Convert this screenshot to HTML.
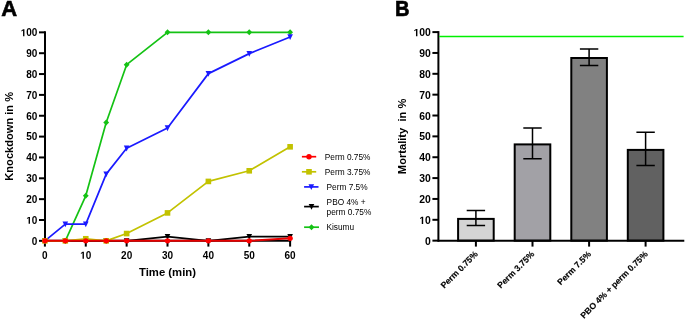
<!DOCTYPE html><html><head><meta charset="utf-8"><style>html,body{margin:0;padding:0;background:#fff;}svg{display:block;will-change:transform;}text{font-family:"Liberation Sans",sans-serif;}</style></head><body>
<svg width="685" height="319" viewBox="0 0 685 319">
<text x="1.3" y="15.7" font-size="22" font-weight="bold" fill="#000" stroke="#000" stroke-width="0.6">A</text>
<text transform="translate(395.0,16.0) scale(0.915,1)" font-size="22" font-weight="bold" fill="#000" stroke="#000" stroke-width="0.6">B</text>
<g stroke="#000" stroke-width="2" fill="none">
<path d="M45,31.35V241.85"/>
<path d="M39,240.85H45"/>
<path d="M39,220.00H45"/>
<path d="M39,199.15H45"/>
<path d="M39,178.30H45"/>
<path d="M39,157.45H45"/>
<path d="M39,136.60H45"/>
<path d="M39,115.75H45"/>
<path d="M39,94.90H45"/>
<path d="M39,74.05H45"/>
<path d="M39,53.20H45"/>
<path d="M39,32.35H45"/>
<path d="M44,240.85H291.12"/>
<path d="M44.90,240.85V246.6"/>
<path d="M85.77,240.85V246.6"/>
<path d="M126.64,240.85V246.6"/>
<path d="M167.51,240.85V246.6"/>
<path d="M208.38,240.85V246.6"/>
<path d="M249.25,240.85V246.6"/>
<path d="M290.12,240.85V246.6"/>
</g>
<g font-size="10" font-weight="bold" fill="#000">
<text x="31.84" y="244.65">0</text>
<path transform="translate(26.28,223.80) scale(0.00488,-0.00488)" d="M478,0L478,1170L140,959L140,1180L493,1409L759,1409L759,0Z"/><text x="31.84" y="223.80">0</text>
<text x="26.28" y="202.95">2</text><text x="31.84" y="202.95">0</text>
<text x="26.28" y="182.10">3</text><text x="31.84" y="182.10">0</text>
<text x="26.28" y="161.25">4</text><text x="31.84" y="161.25">0</text>
<text x="26.28" y="140.40">5</text><text x="31.84" y="140.40">0</text>
<text x="26.28" y="119.55">6</text><text x="31.84" y="119.55">0</text>
<text x="26.28" y="98.70">7</text><text x="31.84" y="98.70">0</text>
<text x="26.28" y="77.85">8</text><text x="31.84" y="77.85">0</text>
<text x="26.28" y="57.00">9</text><text x="31.84" y="57.00">0</text>
<path transform="translate(20.72,36.15) scale(0.00488,-0.00488)" d="M478,0L478,1170L140,959L140,1180L493,1409L759,1409L759,0Z"/><text x="26.28" y="36.15">0</text><text x="31.84" y="36.15">0</text>
</g>
<g font-size="10" font-weight="bold" fill="#000">
<text x="42.12" y="258.70">0</text>
<path transform="translate(80.21,258.70) scale(0.00488,-0.00488)" d="M478,0L478,1170L140,959L140,1180L493,1409L759,1409L759,0Z"/><text x="85.77" y="258.70">0</text>
<text x="121.08" y="258.70">2</text><text x="126.64" y="258.70">0</text>
<text x="161.95" y="258.70">3</text><text x="167.51" y="258.70">0</text>
<text x="202.82" y="258.70">4</text><text x="208.38" y="258.70">0</text>
<text x="243.69" y="258.70">5</text><text x="249.25" y="258.70">0</text>
<text x="284.56" y="258.70">6</text><text x="290.12" y="258.70">0</text>
</g>
<text x="167.5" y="276" font-size="11.3" font-weight="bold" text-anchor="middle">Time (min)</text>
<text transform="translate(13.3,136.3) rotate(-90)" font-size="11.1" font-weight="bold" text-anchor="middle">Knockdown in %</text>
<polyline points="44.90,240.85 65.33,240.85 85.77,195.81 106.20,122.42 126.64,64.67 167.51,32.35 208.38,32.35 249.25,32.35 290.12,32.35" fill="none" stroke="#14c214" stroke-width="1.7" stroke-linejoin="round"/>
<path d="M44.90,237.85L47.80,240.85L44.90,243.85L42.00,240.85Z" fill="#14c214"/>
<path d="M65.33,237.85L68.23,240.85L65.33,243.85L62.43,240.85Z" fill="#14c214"/>
<path d="M85.77,192.81L88.67,195.81L85.77,198.81L82.87,195.81Z" fill="#14c214"/>
<path d="M106.20,119.42L109.10,122.42L106.20,125.42L103.30,122.42Z" fill="#14c214"/>
<path d="M126.64,61.67L129.54,64.67L126.64,67.67L123.74,64.67Z" fill="#14c214"/>
<path d="M167.51,29.35L170.41,32.35L167.51,35.35L164.61,32.35Z" fill="#14c214"/>
<path d="M208.38,29.35L211.28,32.35L208.38,35.35L205.48,32.35Z" fill="#14c214"/>
<path d="M249.25,29.35L252.15,32.35L249.25,35.35L246.35,32.35Z" fill="#14c214"/>
<path d="M290.12,29.35L293.02,32.35L290.12,35.35L287.22,32.35Z" fill="#14c214"/>
<polyline points="44.90,240.85 65.33,224.17 85.77,224.17 106.20,174.13 126.64,148.28 167.51,128.05 208.38,73.63 249.25,53.62 290.12,36.94" fill="none" stroke="#1a1aff" stroke-width="1.7" stroke-linejoin="round"/>
<path d="M42.10,238.15L47.70,238.15L44.90,243.95Z" fill="#1a1aff"/>
<path d="M62.53,221.47L68.13,221.47L65.33,227.27Z" fill="#1a1aff"/>
<path d="M82.97,221.47L88.57,221.47L85.77,227.27Z" fill="#1a1aff"/>
<path d="M103.40,171.43L109.00,171.43L106.20,177.23Z" fill="#1a1aff"/>
<path d="M123.84,145.58L129.44,145.58L126.64,151.38Z" fill="#1a1aff"/>
<path d="M164.71,125.35L170.31,125.35L167.51,131.15Z" fill="#1a1aff"/>
<path d="M205.58,70.93L211.18,70.93L208.38,76.73Z" fill="#1a1aff"/>
<path d="M246.45,50.92L252.05,50.92L249.25,56.72Z" fill="#1a1aff"/>
<path d="M287.32,34.24L292.92,34.24L290.12,40.04Z" fill="#1a1aff"/>
<polyline points="44.90,240.85 65.33,240.85 85.77,240.85 106.20,240.85 126.64,240.85 167.51,236.68 208.38,240.85 249.25,236.68 290.12,236.68" fill="none" stroke="#000000" stroke-width="1.7" stroke-linejoin="round"/>
<path d="M42.10,238.15L47.70,238.15L44.90,243.95Z" fill="#000000"/>
<path d="M62.53,238.15L68.13,238.15L65.33,243.95Z" fill="#000000"/>
<path d="M82.97,238.15L88.57,238.15L85.77,243.95Z" fill="#000000"/>
<path d="M103.40,238.15L109.00,238.15L106.20,243.95Z" fill="#000000"/>
<path d="M123.84,238.15L129.44,238.15L126.64,243.95Z" fill="#000000"/>
<path d="M164.71,233.98L170.31,233.98L167.51,239.78Z" fill="#000000"/>
<path d="M205.58,238.15L211.18,238.15L208.38,243.95Z" fill="#000000"/>
<path d="M246.45,233.98L252.05,233.98L249.25,239.78Z" fill="#000000"/>
<path d="M287.32,233.98L292.92,233.98L290.12,239.78Z" fill="#000000"/>
<polyline points="44.90,240.85 65.33,240.85 85.77,238.76 106.20,240.85 126.64,233.55 167.51,212.91 208.38,181.43 249.25,170.79 290.12,146.82" fill="none" stroke="#c2c200" stroke-width="1.7" stroke-linejoin="round"/>
<rect x="42.10" y="238.05" width="5.6" height="5.6" fill="#c2c200"/>
<rect x="62.53" y="238.05" width="5.6" height="5.6" fill="#c2c200"/>
<rect x="82.97" y="235.96" width="5.6" height="5.6" fill="#c2c200"/>
<rect x="103.40" y="238.05" width="5.6" height="5.6" fill="#c2c200"/>
<rect x="123.84" y="230.75" width="5.6" height="5.6" fill="#c2c200"/>
<rect x="164.71" y="210.11" width="5.6" height="5.6" fill="#c2c200"/>
<rect x="205.58" y="178.63" width="5.6" height="5.6" fill="#c2c200"/>
<rect x="246.45" y="167.99" width="5.6" height="5.6" fill="#c2c200"/>
<rect x="287.32" y="144.02" width="5.6" height="5.6" fill="#c2c200"/>
<polyline points="44.90,240.85 65.33,240.85 85.77,240.85 106.20,240.85 126.64,240.85 167.51,240.85 208.38,240.85 249.25,240.85 290.12,238.35" fill="none" stroke="#e60000" stroke-width="2.0" stroke-linejoin="round"/>
<circle cx="44.90" cy="240.85" r="2.7" fill="#ff0000"/>
<circle cx="65.33" cy="240.85" r="2.7" fill="#ff0000"/>
<circle cx="85.77" cy="240.85" r="2.7" fill="#ff0000"/>
<circle cx="106.20" cy="240.85" r="2.7" fill="#ff0000"/>
<circle cx="126.64" cy="240.85" r="2.7" fill="#ff0000"/>
<circle cx="167.51" cy="240.85" r="2.7" fill="#ff0000"/>
<circle cx="208.38" cy="240.85" r="2.7" fill="#ff0000"/>
<circle cx="249.25" cy="240.85" r="2.7" fill="#ff0000"/>
<circle cx="290.12" cy="238.35" r="2.7" fill="#ff0000"/>
<path d="M301.9,156.7H316.2" stroke="#ff0000" stroke-width="1.7"/>
<circle cx="309.00" cy="156.70" r="2.7" fill="#ff0000"/>
<text x="324.8" y="159.9" font-size="8.3" fill="#000">Perm 0.75%</text>
<path d="M301.9,171.8H316.2" stroke="#c2c200" stroke-width="1.7"/>
<rect x="306.20" y="169.00" width="5.6" height="5.6" fill="#c2c200"/>
<text x="324.8" y="175.1" font-size="8.3" fill="#000">Perm 3.75%</text>
<path d="M304.1,186.9H318.5" stroke="#1a1aff" stroke-width="1.7"/>
<path d="M308.50,184.20L314.10,184.20L311.30,190.00Z" fill="#1a1aff"/>
<text x="326.5" y="190.2" font-size="8.3" fill="#000">Perm 7.5%</text>
<path d="M304.1,206.6H318.8" stroke="#000000" stroke-width="1.7"/>
<path d="M308.70,203.90L314.30,203.90L311.50,209.70Z" fill="#000000"/>
<text x="326.6" y="205.2" font-size="8.3" fill="#000">PBO 4% +</text>
<text x="326.6" y="214.6" font-size="8.3" fill="#000">perm 0.75%</text>
<path d="M304.1,227.2H319.0" stroke="#14c214" stroke-width="1.7"/>
<path d="M311.50,224.20L314.40,227.20L311.50,230.20L308.60,227.20Z" fill="#14c214"/>
<text x="326.4" y="230.2" font-size="8.3" fill="#000">Kisumu</text>
<g stroke="#000" stroke-width="2" fill="none">
<path d="M438.4,31.10V241.65"/>
<path d="M432.4,240.65H438.4"/>
<path d="M432.4,219.80H438.4"/>
<path d="M432.4,198.94H438.4"/>
<path d="M432.4,178.09H438.4"/>
<path d="M432.4,157.23H438.4"/>
<path d="M432.4,136.38H438.4"/>
<path d="M432.4,115.52H438.4"/>
<path d="M432.4,94.66H438.4"/>
<path d="M432.4,73.81H438.4"/>
<path d="M432.4,52.95H438.4"/>
<path d="M432.4,32.10H438.4"/>
</g>
<g font-size="10.4" font-weight="bold" fill="#000">
<text x="425.12" y="244.75">0</text>
<path transform="translate(419.33,223.90) scale(0.00508,-0.00508)" d="M478,0L478,1170L140,959L140,1180L493,1409L759,1409L759,0Z"/><text x="425.12" y="223.90">0</text>
<text x="419.33" y="203.04">2</text><text x="425.12" y="203.04">0</text>
<text x="419.33" y="182.19">3</text><text x="425.12" y="182.19">0</text>
<text x="419.33" y="161.33">4</text><text x="425.12" y="161.33">0</text>
<text x="419.33" y="140.47">5</text><text x="425.12" y="140.47">0</text>
<text x="419.33" y="119.62">6</text><text x="425.12" y="119.62">0</text>
<text x="419.33" y="98.76">7</text><text x="425.12" y="98.76">0</text>
<text x="419.33" y="77.91">8</text><text x="425.12" y="77.91">0</text>
<text x="419.33" y="57.05">9</text><text x="425.12" y="57.05">0</text>
<path transform="translate(413.55,36.20) scale(0.00508,-0.00508)" d="M478,0L478,1170L140,959L140,1180L493,1409L759,1409L759,0Z"/><text x="419.33" y="36.20">0</text><text x="425.12" y="36.20">0</text>
</g>
<text transform="translate(406,136.4) rotate(-90)" font-size="11.15" font-weight="bold" text-anchor="middle">Mortality&#160; in %</text>
<path d="M439.2,36.45H683.6" stroke="#00f000" stroke-width="1.5"/>
<rect x="458.10" y="218.90" width="35.6" height="21.75" fill="#d4d4d4" stroke="#000" stroke-width="2"/>
<path d="M475.90,210.5V225.5M466.70,210.5H485.10M466.70,225.5H485.10" stroke="#000" stroke-width="1.5" fill="none"/>
<rect x="514.70" y="144.40" width="35.6" height="96.25" fill="#a2a1a6" stroke="#000" stroke-width="2"/>
<path d="M532.50,127.9V158.8M523.30,127.9H541.70M523.30,158.8H541.70" stroke="#000" stroke-width="1.5" fill="none"/>
<rect x="571.30" y="58.00" width="35.6" height="182.65" fill="#818181" stroke="#000" stroke-width="2"/>
<path d="M589.10,48.9V65.4M579.90,48.9H598.30M579.90,65.4H598.30" stroke="#000" stroke-width="1.5" fill="none"/>
<rect x="627.80" y="149.90" width="35.6" height="90.75" fill="#616161" stroke="#000" stroke-width="2"/>
<path d="M645.60,132.2V165.6M636.40,132.2H654.80M636.40,165.6H654.80" stroke="#000" stroke-width="1.5" fill="none"/>
<g stroke="#000" stroke-width="2" fill="none">
<path d="M437.7,240.65H684.3"/>
<path d="M475.90,240.65V246.6"/>
<path d="M532.50,240.65V246.6"/>
<path d="M589.10,240.65V246.6"/>
<path d="M645.60,240.65V246.6"/>
</g>
<text transform="translate(478.4,254.7) rotate(-45)" font-size="8.6" font-weight="bold" stroke="#000" stroke-width="0.15" text-anchor="end">Perm 0.75%</text>
<text transform="translate(535.0,254.7) rotate(-45)" font-size="8.6" font-weight="bold" stroke="#000" stroke-width="0.15" text-anchor="end">Perm 3.75%</text>
<text transform="translate(591.6,254.7) rotate(-45)" font-size="8.6" font-weight="bold" stroke="#000" stroke-width="0.15" text-anchor="end">Perm 7.5%</text>
<text transform="translate(648.3,254.6) rotate(-45)" font-size="8.6" font-weight="bold" stroke="#000" stroke-width="0.15" text-anchor="end">PBO 4% + perm 0.75%</text>
</svg></body></html>
